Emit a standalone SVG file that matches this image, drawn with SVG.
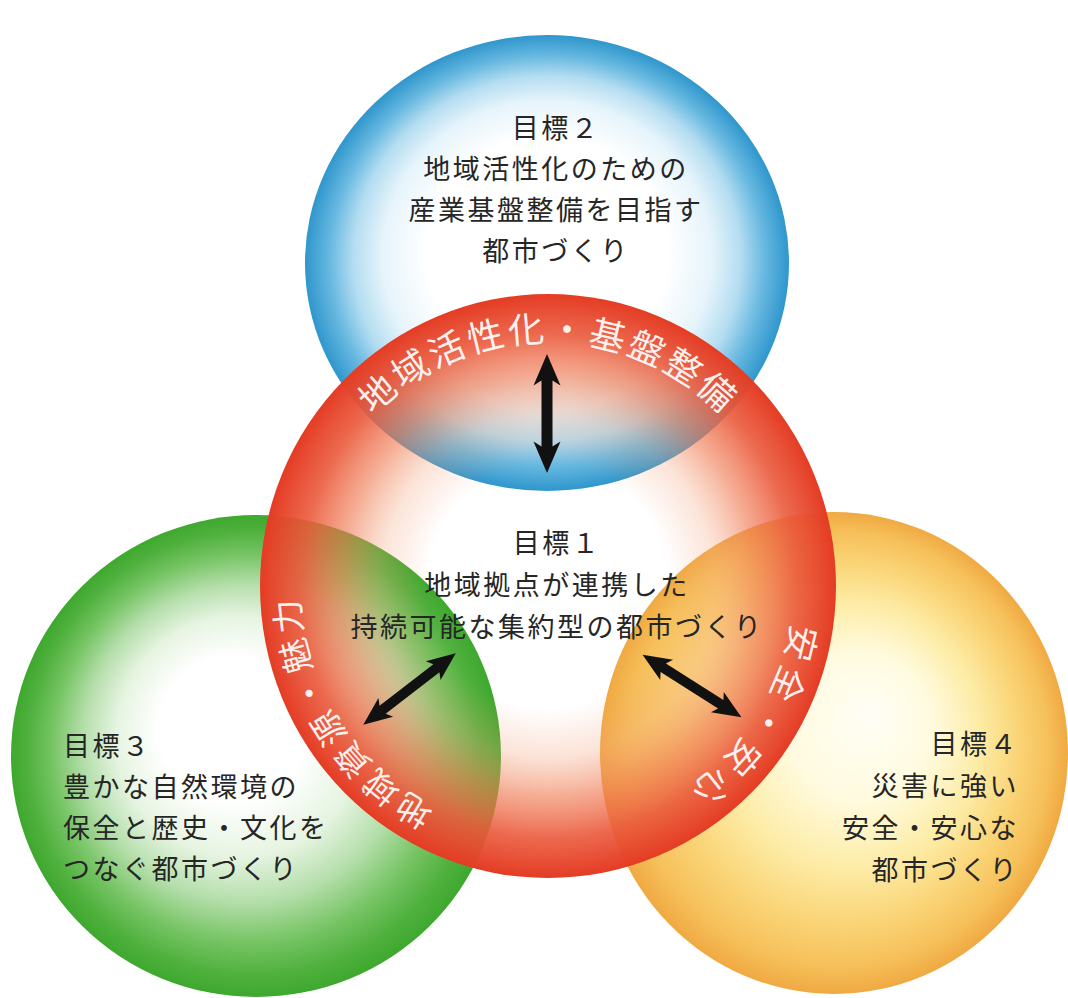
<svg xmlns="http://www.w3.org/2000/svg" xmlns:xlink="http://www.w3.org/1999/xlink" width="1068" height="998" viewBox="0 0 1068 998">
<style>
.t { font-family: "Noto Sans CJK JP", "Noto Sans CJK SC", sans-serif; fill: #262626; font-size: 27px; letter-spacing: 2.5px; }
.c { text-anchor: middle; }
.e { text-anchor: end; }
.arc { font-family: "Noto Sans CJK JP", "Noto Sans CJK SC", sans-serif; fill: #ffffff; fill-opacity: 0.92; }
.arrow { fill: #111111; }
</style>
<defs>
  <radialGradient id="gBlue" cx="0.5" cy="0.5" r="0.5" fx="0.5" fy="0.45">
    <stop offset="0" stop-color="#ffffff"/>
    <stop offset="0.5" stop-color="#ffffff"/>
    <stop offset="0.68" stop-color="#e6f4fb"/>
    <stop offset="0.8" stop-color="#b4ddf1"/>
    <stop offset="0.9" stop-color="#66b8e0"/>
    <stop offset="1" stop-color="#2f96cc"/>
  </radialGradient>
  <radialGradient id="gGreen" cx="0.5" cy="0.5" r="0.5" fx="0.43" fy="0.42">
    <stop offset="0" stop-color="#ffffff"/>
    <stop offset="0.3" stop-color="#ffffff"/>
    <stop offset="0.5" stop-color="#e6f4e1"/>
    <stop offset="0.66" stop-color="#b4deaa"/>
    <stop offset="0.8" stop-color="#78c566"/>
    <stop offset="0.92" stop-color="#50b13e"/>
    <stop offset="1" stop-color="#3ea82e"/>
  </radialGradient>
  <radialGradient id="gYellow" cx="0.5" cy="0.5" r="0.5" fx="0.58" fy="0.42">
    <stop offset="0" stop-color="#fffef6"/>
    <stop offset="0.3" stop-color="#fffbe0"/>
    <stop offset="0.55" stop-color="#fdeca6"/>
    <stop offset="0.75" stop-color="#fad476"/>
    <stop offset="0.9" stop-color="#f6c05a"/>
    <stop offset="1" stop-color="#f0a942"/>
  </radialGradient>
  <radialGradient id="gRed" cx="0.5" cy="0.5" r="0.5">
    <stop offset="0" stop-color="#f39a70" stop-opacity="0"/>
    <stop offset="0.42" stop-color="#f39a70" stop-opacity="0"/>
    <stop offset="0.58" stop-color="#f3a078" stop-opacity="0.28"/>
    <stop offset="0.72" stop-color="#ef7a52" stop-opacity="0.62"/>
    <stop offset="0.86" stop-color="#ea5a3c" stop-opacity="0.9"/>
    <stop offset="1" stop-color="#e43c24" stop-opacity="1"/>
  </radialGradient>
  <path id="arcTop" d="M307.7,543.6 A244,244 0 0 1 788.3,543.6" fill="none"/>
  <path id="arcLeft" d="M558.9,834.8 A249,249 0 0 1 327.1,471.0" fill="none"/>
  <path id="arcRight" d="M766.7,472.2 A246,246 0 0 1 537.3,831.8" fill="none"/>
  <path id="arrowBig" d="M-59.5,0 L-28,-13.5 L-33,-5.5 L33,-5.5 L28,-13.5 L59.5,0 L28,13.5 L33,5.5 L-33,5.5 L-28,13.5 Z"/>
  <path id="arrowDiag" d="M-58.5,0 L-30,-12 L-34,-5 L34,-5 L30,-12 L58.5,0 L30,12 L34,5 L-34,5 L-30,12 Z"/>
</defs>

<rect x="0" y="0" width="1068" height="998" fill="#ffffff"/>

<g id="goal2">
  <ellipse cx="547" cy="263" rx="242" ry="228" fill="url(#gBlue)"/>
  <text class="t c" x="556" y="138">目標２</text>
  <text class="t c" x="556" y="179">地域活性化のための</text>
  <text class="t c" x="556" y="220">産業基盤整備を目指す</text>
  <text class="t c" x="556" y="261">都市づくり</text>
</g>

<g id="goal3">
  <ellipse cx="256" cy="756" rx="245" ry="241" fill="url(#gGreen)"/>
  <text class="t" x="63" y="756">目標３</text>
  <text class="t" x="63" y="797">豊かな自然環境の</text>
  <text class="t" x="63" y="838">保全と歴史・文化を</text>
  <text class="t" x="63" y="879">つなぐ都市づくり</text>
</g>

<g id="goal4">
  <ellipse cx="834" cy="753" rx="234" ry="241" fill="url(#gYellow)"/>
  <text class="t e" x="1019" y="754">目標４</text>
  <text class="t e" x="1019" y="796">災害に強い</text>
  <text class="t e" x="1019" y="838">安全・安心な</text>
  <text class="t e" x="1019" y="880">都市づくり</text>
</g>

<g id="goal1">
  <ellipse cx="548" cy="586" rx="288" ry="292" fill="url(#gRed)"/>
  <text class="t c" x="557" y="553">目標１</text>
  <text class="t c" x="557" y="595">地域拠点が連携した</text>
  <text class="t c" x="557" y="637">持続可能な集約型の都市づくり</text>
</g>

<g id="overlap-labels">
  <text class="arc" font-size="36" letter-spacing="3"><textPath href="#arcTop" xlink:href="#arcTop" startOffset="50%" text-anchor="middle">地域活性化・基盤整備</textPath></text>
  <text class="arc" font-size="34" letter-spacing="4"><textPath href="#arcLeft" xlink:href="#arcLeft" startOffset="50%" text-anchor="middle">地域資源・魅力</textPath></text>
  <text class="arc" font-size="35" letter-spacing="6"><textPath href="#arcRight" xlink:href="#arcRight" startOffset="50%" text-anchor="middle">安全・安心</textPath></text>
</g>

<g id="connectors">
  <use href="#arrowBig" xlink:href="#arrowBig" class="arrow" transform="translate(547,413.5) rotate(90)"/>
  <use href="#arrowDiag" xlink:href="#arrowDiag" class="arrow" transform="translate(409.5,689) rotate(-37.75)"/>
  <use href="#arrowDiag" xlink:href="#arrowDiag" class="arrow" transform="translate(692,686) rotate(32.3)"/>
</g>
</svg>
